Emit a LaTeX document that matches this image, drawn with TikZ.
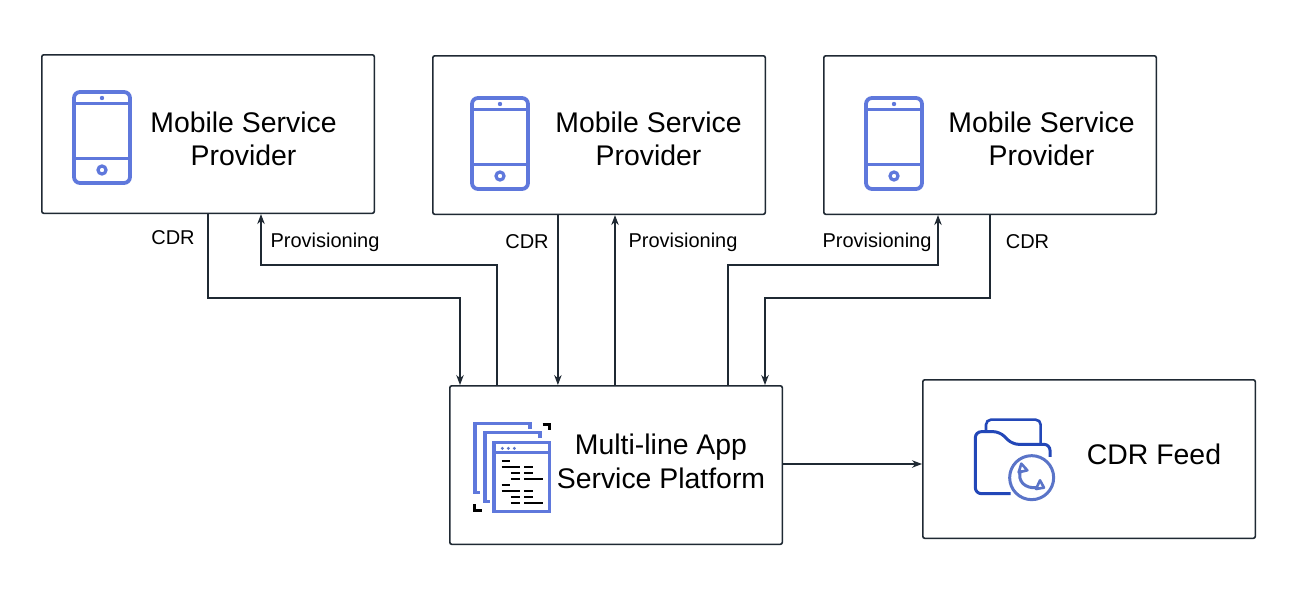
\documentclass[tikz,border=0pt]{standalone}
\usepackage{fontspec}
\setmainfont{Liberation Sans}
\usetikzlibrary{arrows.meta}
\definecolor{iconblue}{HTML}{5F78DC}
\definecolor{deepblue}{HTML}{2347B8}
\definecolor{midblue}{HTML}{5A74C8}
\definecolor{ink}{HTML}{1F2933}
\tikzset{
  x=1pt,y=-1pt,
  box/.style={draw=ink,line width=1.6pt,rounded corners=2pt,minimum width=332.5pt,minimum height=158.5pt,inner sep=0pt},
  title/.style={font=\fontsize{28.4}{33.5}\selectfont,align=center,text=black,inner sep=0pt},
  tag/.style={font=\fontsize{20}{24}\selectfont,text=black,inner sep=0pt},
  link/.style={draw=ink,line width=1.2pt},
  arrowlink/.style={link,-{Stealth[length=10pt,width=7.5pt]}},
  pics/phone/.style={code={
    \draw[iconblue,line width=3.8pt,rounded corners=6pt] (0,0) rectangle (56,91);
    \draw[iconblue,line width=3pt] (0,11) -- (56,11) (0,66) -- (56,66);
    \fill[iconblue] (28,6) circle (2.2pt);
    \draw[iconblue,line width=3.2pt] (28,78) circle (4pt);
  }}
}
\begin{document}
\begin{tikzpicture}
\useasboundingbox (0,0) rectangle (1304,605);
\fill[white] (0,0) rectangle (1304,605);
\node[box,anchor=north west] (m1) at (41,54) {};
\node[box,anchor=north west] (m2) at (432,55) {};
\node[box,anchor=north west] (m3) at (823,55) {};
\node[box,anchor=north west] (plat) at (449,385) {};
\node[box,anchor=north west] (feed) at (922,379) {};
\node[title] (m1t) at (243.5,139) {Mobile Service\\Provider};
\node[title] (m2t) at (648.5,139) {Mobile Service\\Provider};
\node[title] (m3t) at (1041.5,139) {Mobile Service\\Provider};
\node[title] (platt) at (661,461.5) {Multi-line App\\Service Platform};
\node[title] (feedt) at (1154,454) {CDR Feed};
\pic at (74,92) {phone};
\pic at (472,98) {phone};
\pic at (866,98) {phone};
% connectors
\draw[arrowlink] ([xshift=167pt]m1.south west) |- (460,298) -- ([xshift=11pt]plat.north west);
\draw[arrowlink] ([xshift=48pt]plat.north west) |- (261,265) -- ([xshift=220pt]m1.south west);
\draw[arrowlink] ([xshift=125.9pt]m2.south west) -- ([xshift=108.9pt]plat.north west);
\draw[arrowlink] ([xshift=166pt]plat.north west) -- ([xshift=183pt]m2.south west);
\draw[arrowlink] ([xshift=279pt]plat.north west) |- (938,265) -- ([xshift=115pt]m3.south west);
\draw[arrowlink] ([xshift=167pt]m3.south west) |- (765,298) -- ([xshift=316pt]plat.north west);
\draw[arrowlink] (plat.east |- 0,464) -- (feed.west |- 0,464);
% labels
\node[tag] (l1) at (173,238) {CDR};
\node[tag] (l2) at (325,242.5) {Provisioning};
\node[tag] (l3) at (527,242) {CDR};
\node[tag] (l4) at (683,242.5) {Provisioning};
\node[tag] (l5) at (877,242.5) {Provisioning};
\node[tag] (l6) at (1027.5,242) {CDR};
% stack icon
\begin{scope}[shift={(455,405)},x=0.3333pt,y=-0.3333pt]
  \draw[iconblue,line width=3.2pt] (225,72) -- (225,55) -- (60,55) -- (60,262) -- (76,262);
  \draw[iconblue,line width=3.2pt] (255,99) -- (255,83) -- (90,83) -- (90,290) -- (105,290);
  \draw[iconblue,line width=3.2pt] (117,112) rectangle (283,320);
  \draw[iconblue,line width=2.6pt] (117,142) -- (283,142);
  \foreach \d in {142,160,178} \fill[midblue] (\d,130) circle (5);
  \draw[black,line width=3pt] (263,57) -- (285,57) -- (285,76);
  \draw[black,line width=3pt] (58,298) -- (58,318) -- (80,318);
  \draw[black,line width=2.8pt]
    (140,168) -- (165,168)
    (140,186) -- (195,186) (208,186) -- (235,186)
    (168,204) -- (195,204) (208,204) -- (235,204)
    (168,222) -- (195,222) (208,222) -- (263,222)
    (140,240) -- (165,240)
    (140,258) -- (195,258) (208,258) -- (235,258)
    (168,276) -- (195,276) (208,276) -- (235,276)
    (168,294) -- (195,294) (208,294) -- (263,294);
\end{scope}
% folder icon
\begin{scope}[shift={(960,405)},x=0.3333pt,y=-0.3333pt]
  \draw[deepblue,line width=2.6pt,rounded corners=5pt] (78,78) -- (78,44) -- (242,44) -- (242,115);
  \draw[deepblue,line width=3pt,rounded corners=6pt] (152,266) -- (46,266) -- (46,80) -- (118,80) -- (158,118) -- (270,118) -- (270,156);
  \draw[midblue,line width=3pt] (215,218) circle (66);
  \draw[midblue,line width=3pt] (182,195) .. controls (170,228) and (195,252) .. (232,248);
  \draw[midblue,line width=2.6pt,line join=round] (184,176) -- (202,196) -- (176,202) -- cycle;
  \draw[midblue,line width=2.6pt,line join=round] (240,226) -- (252,248) -- (228,252) -- cycle;
\end{scope}
\end{tikzpicture}
\end{document}
